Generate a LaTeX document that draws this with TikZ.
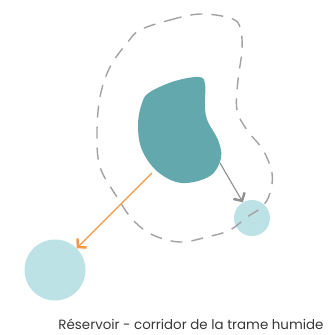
\documentclass[tikz,border=0pt]{standalone}
\usepackage{fontspec}
\setmainfont{Poppins}
\usepackage{xcolor}
\usepackage{tikz}
\usetikzlibrary{arrows.meta,positioning,calc}
\definecolor{wetdark}{RGB}{98,168,172}
\definecolor{wetlight}{RGB}{188,226,229}
\definecolor{linkorange}{RGB}{240,152,72}
\definecolor{linkgray}{RGB}{140,142,144}
\definecolor{bufgray}{RGB}{160,162,164}
\definecolor{captext}{RGB}{55,55,55}
\begin{document}
\begin{tikzpicture}[
  x=1pt, y=-1pt,
  font=\fontsize{13.4}{15}\selectfont,
  patch/.style={circle, fill=wetlight, inner sep=0pt},
  buffer/.style={draw=bufgray, line width=1.4pt, dash pattern=on 12pt off 9pt},
  ar/.style={-{Straight Barb[length=6pt, width=13pt, line width=2.4pt]}, line width=1.1pt}
]
\useasboundingbox (0,0) rectangle (334,335);

% patches
\node[patch, minimum size=36pt] (small) at (252,218) {};
\node[patch, minimum size=61pt] (big) at (55,270) {};

% dashed buffer zone
\draw[buffer] plot[smooth cycle, tension=0.6] coordinates {
  (140,30) (170,20) (200,14) (230,18) (240,27) (242,50) (238,80) (237,110)
  (247,130) (263,150) (272,173) (270,193) (262,207) (247,217) (230,230)
  (207,237) (180,242) (153,235) (133,220) (117,197) (100,167) (97,133)
  (100,97) (110,67) (127,43)};

% reservoir
\fill[wetdark] plot[smooth cycle, tension=0.6] coordinates {
  (150,92) (175,81) (199,77) (205,84) (205,108) (208,122) (218,140)
  (221,158) (210,176) (182,183) (158,172) (142,150) (138,125) (142,103)};
\coordinate (resorange) at (152,173);
\coordinate (resgray) at (220,163);

\draw[ar, linkorange] (resorange) -- (big);
\draw[ar, linkgray] (resgray) -- (small);

\node[text=captext] (caption) at (191,324) {Réservoir - corridor de la trame humide};
\end{tikzpicture}
\end{document}
